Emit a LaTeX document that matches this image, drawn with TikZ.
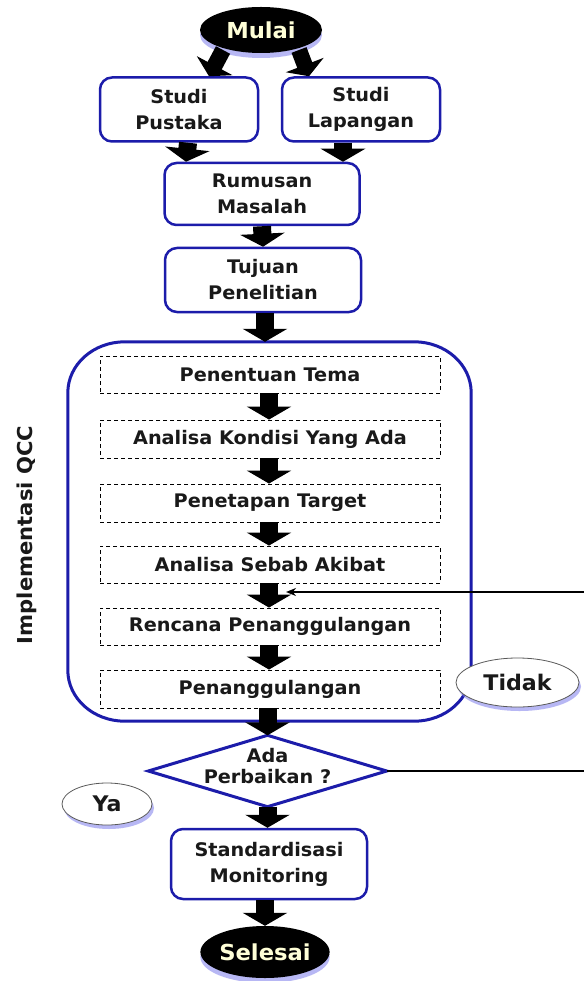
\documentclass[tikz,border=0pt]{standalone}
\usepackage{fontspec}
\setmainfont{DejaVu Sans}[FakeStretch=1.03]
\usetikzlibrary{shapes.geometric,arrows.meta,shadows,calc}
\definecolor{qblue}{RGB}{28,28,170}
\definecolor{cream}{RGB}{255,255,215}
\definecolor{glow}{RGB}{125,125,235}
\begin{document}
\begin{tikzpicture}[x=1pt,y=-1pt,
  every node/.style={font=\fontsize{18.7}{26}\selectfont\bfseries, inner sep=0pt, text=black!90},
  box/.style={draw=qblue, line width=2.5pt, rounded corners=12pt, fill=white, align=center},
  dbox/.style={draw=black, line width=0.9pt, dash pattern=on 4pt off 3pt, fill=white, minimum width=340pt},
  term/.style={ellipse, fill=black, text=cream, font=\fontsize{22}{26}\selectfont\bfseries, drop shadow={shadow xshift=0pt, shadow yshift=-5pt, fill=glow, opacity=0.55}},
  lbl/.style={ellipse, draw=black!65, line width=0.8pt, fill=white, font=\fontsize{21.5}{26}\selectfont\bfseries, drop shadow={shadow xshift=2pt, shadow yshift=-4pt, fill=glow, opacity=0.55}},
  barrow/.style={line width=18pt, black, -{Triangle[length=13pt, width=44pt]}},
  frame/.style={draw=qblue, line width=3pt},
  fb/.style={line width=2pt, black},
]
\useasboundingbox (0,0) rectangle (583,981);
\fill[white] (0,0) rectangle (583,981);

% big QCC frame (elliptical rounded corners)
\node[minimum width=403pt, minimum height=379pt] (qcc) at (269.5,531.5) {};
\draw[frame]
  ($(qcc.north west)+(57,0)$) -- ($(qcc.north east)+(-57,0)$)
  .. controls ($(qcc.north east)+(-25.5,0)$) and ($(qcc.north east)+(0,22.8)$) .. ($(qcc.north east)+(0,51)$)
  -- ($(qcc.south east)+(0,-51)$)
  .. controls ($(qcc.south east)+(0,-22.8)$) and ($(qcc.south east)+(-25.5,0)$) .. ($(qcc.south east)+(-57,0)$)
  -- ($(qcc.south west)+(57,0)$)
  .. controls ($(qcc.south west)+(25.5,0)$) and ($(qcc.south west)+(0,-22.8)$) .. ($(qcc.south west)+(0,-51)$)
  -- ($(qcc.north west)+(0,51)$)
  .. controls ($(qcc.north west)+(0,22.8)$) and ($(qcc.north west)+(25.5,0)$) .. cycle;
\node[rotate=90, font=\fontsize{20.5}{24}\selectfont\bfseries] (qlabel) at (27,535) {Implementasi QCC};

% nodes
\node[term, minimum width=122pt, minimum height=46pt] (mulai) at (261,30) {Mulai};
\node[box, minimum width=158pt, minimum height=64pt] (pustaka) at (179,109.5) {Studi\\Pustaka};
\node[box, minimum width=158pt, minimum height=64pt] (lapangan) at (361,109.5) {Studi\\Lapangan};
\node[box, minimum width=195pt, minimum height=62pt] (rumusan) at (262,194) {Rumusan\\Masalah};
\node[box, minimum width=196pt, minimum height=64pt] (tujuan) at (263,280) {Tujuan\\Penelitian};

\node[dbox, minimum height=37pt] (tema) at (270,374.5) {Penentuan Tema};
\node[dbox, minimum height=38pt] (kondisi) at (270,439) {Analisa Kondisi Yang Ada};
\node[dbox, minimum height=38pt] (target) at (270,503) {Penetapan Target};
\node[dbox, minimum height=37pt] (sebab) at (270,564.5) {Analisa Sebab Akibat};
\node[dbox, minimum height=37pt] (rencana) at (270,626.5) {Rencana Penanggulangan};
\node[dbox, minimum height=38pt] (penang) at (270,689) {Penanggulangan};

\node[minimum width=238pt, minimum height=71pt] (ada) at (267.5,771) {};
\draw[draw=qblue, line width=3pt, fill=white, line join=miter] (ada.west) -- (ada.north) -- (ada.east) -- (ada.south) -- cycle;
\node[align=center, font=\fontsize{18.7}{21}\selectfont\bfseries] (adatext) at (267.5,766) {Ada\\Perbaikan ?};

\node[box, minimum width=196pt, minimum height=70pt] (std) at (269,864) {Standardisasi\\Monitoring};
\node[term, minimum width=124pt, minimum height=52pt] (selesai) at (265,952) {Selesai};

\node[lbl, minimum width=123pt, minimum height=49pt] (tidak) at (517.5,682.5) {Tidak};
\node[lbl, minimum width=90pt, minimum height=42pt] (ya) at (107,804) {Ya};

% block arrows
\draw[barrow, line width=16pt, -{Triangle[length=12pt, width=40pt]}] ($(mulai.center)+(-38,20)$) -- ($(pustaka.north)+(30,0)$);
\draw[barrow, line width=16pt, -{Triangle[length=12pt, width=40pt]}] ($(mulai.center)+(38,20)$) -- ($(lapangan.north)+(-52,0)$);
\draw[barrow] ($(pustaka.south)+(9,0)$) -- ($(rumusan.north)+(-76,0)$);
\draw[barrow] ($(lapangan.south)+(-18,0)$) -- ($(rumusan.north)+(81,0)$);
\draw[barrow] (rumusan.south) -- (tujuan.north);
\draw[barrow] ($(tujuan.south)+(2,0)$) -- ($(qcc.north)+(-4.5,0)$);
\draw[barrow] ($(tema.south)+(-1,0)$) -- ($(kondisi.north)+(-1,0)$);
\draw[barrow] ($(kondisi.south)+(-1,0)$) -- ($(target.north)+(-1,0)$);
\draw[barrow] ($(target.south)+(-1,0)$) -- ($(sebab.north)+(-1,0)$);
\draw[barrow] ($(sebab.south)+(-1,0)$) -- ($(rencana.north)+(-1,0)$);
\draw[barrow] ($(rencana.south)+(-1,0)$) -- ($(penang.north)+(-1,0)$);
\draw[barrow] ($(penang.south)+(-2.5,0)$) -- (ada.north);
\draw[barrow] (ada.south) -- ($(std.north)+(-1.5,0)$);
\draw[barrow] ($(std.south)+(-4,0)$) -- (selesai.north);

% feedback loop
\coordinate (fbtip) at (286,592);
\draw[fb, -{Stealth[length=10pt, width=8pt]}] (ada.east) -- (590,771) |- (fbtip);
\end{tikzpicture}
\end{document}
